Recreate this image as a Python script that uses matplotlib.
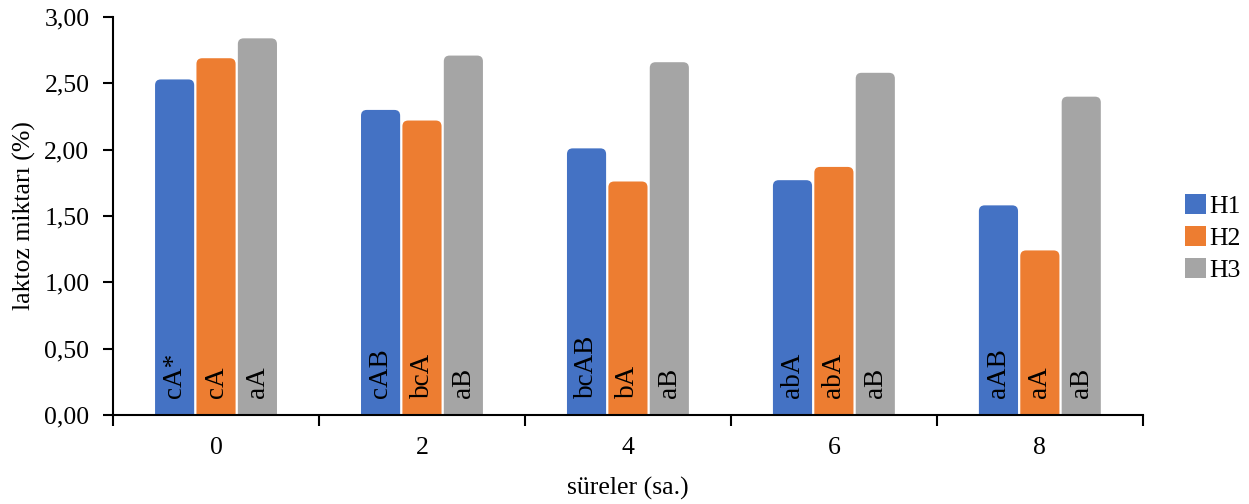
import numpy as np
import matplotlib
matplotlib.use('Agg')
import matplotlib.pyplot as plt
from matplotlib.patches import FancyBboxPatch, Patch
from matplotlib.ticker import FuncFormatter

plt.rcParams['font.family'] = ['Liberation Serif', 'DejaVu Serif']

times = ['0', '2', '4', '6', '8']
h1 = [2.53, 2.30, 2.01, 1.77, 1.58]
h2 = [2.69, 2.22, 1.76, 1.87, 1.24]
h3 = [2.84, 2.71, 2.66, 2.58, 2.40]
lab1 = ['cA*', 'cAB', 'bcAB', 'abA', 'aAB']
lab2 = ['cA', 'bcA', 'bA', 'abA', 'aA']
lab3 = ['aA', 'aB', 'aB', 'aB', 'aB']

series = [('H1', h1, lab1, '#4472C4'),
          ('H2', h2, lab2, '#ED7D31'),
          ('H3', h3, lab3, '#A5A5A5')]

fs = 18.5

fig = plt.figure(figsize=(12.49, 5.04), dpi=100)
ax = fig.add_axes([0.0905, 0.177, 0.8245, 0.789])

ax.set_xlim(-0.5, len(times) - 0.5)
ax.set_ylim(0, 3.0)

# aspect between y and x data units (for rounded tops)
bbox = ax.get_position()
xpx = bbox.width * fig.get_figwidth() * fig.dpi / len(times)
ypx = bbox.height * fig.get_figheight() * fig.dpi / 3.0
asp = xpx / ypx

x = np.arange(len(times))
w = 0.19
step = 0.201
handles = []
for i, (name, vals, labs, col) in enumerate(series):
    pos = x + (i - 1) * step
    bars = ax.bar(pos, vals, width=w, color=col, label=name)
    for b in bars:
        b.set_visible(False)
        r = FancyBboxPatch((b.get_x(), -0.1), b.get_width(), b.get_height() + 0.1,
                           boxstyle='round,pad=0,rounding_size=0.028',
                           mutation_aspect=asp, facecolor=col, edgecolor='none',
                           zorder=2)
        ax.add_patch(r)
    for px, lab in zip(pos, labs):
        ax.text(px, 0.125, lab, rotation=90, ha='center', va='bottom',
                fontsize=19.5, color='black', zorder=3)
    handles.append(Patch(facecolor=col, label=name))

ax.set_yticks(np.arange(0, 3.01, 0.5))
ax.yaxis.set_major_formatter(FuncFormatter(lambda v, p: f'{v:.2f}'.replace('.', ',')))
ax.set_xticks(x)
ax.set_xticklabels(times)
ax.set_xticks(np.arange(-0.5, len(times)), minor=True)
ax.tick_params(axis='x', which='major', length=0, pad=16, labelsize=fs)
ax.tick_params(axis='x', which='minor', length=8, width=1.5, direction='out')
ax.tick_params(axis='y', length=7, width=1.5, direction='out', labelsize=fs, pad=10)

for s in ['top', 'right']:
    ax.spines[s].set_visible(False)
ax.spines['left'].set_linewidth(1.5)
ax.spines['bottom'].set_linewidth(1.5)
ax.spines['left'].set_zorder(4)
ax.spines['bottom'].set_zorder(4)

ax.set_ylabel('laktoz miktarı (%)', fontsize=fs, labelpad=6)
ax.set_xlabel('süreler (sa.)', fontsize=fs, labelpad=13)

ax.legend(handles=handles, loc='center left', bbox_to_anchor=(1.028, 0.445),
          frameon=False, fontsize=fs, handlelength=0.85, handleheight=0.85,
          handletextpad=0.1, labelspacing=0.3, borderpad=0)

fig.savefig('out.png', dpi=100)
